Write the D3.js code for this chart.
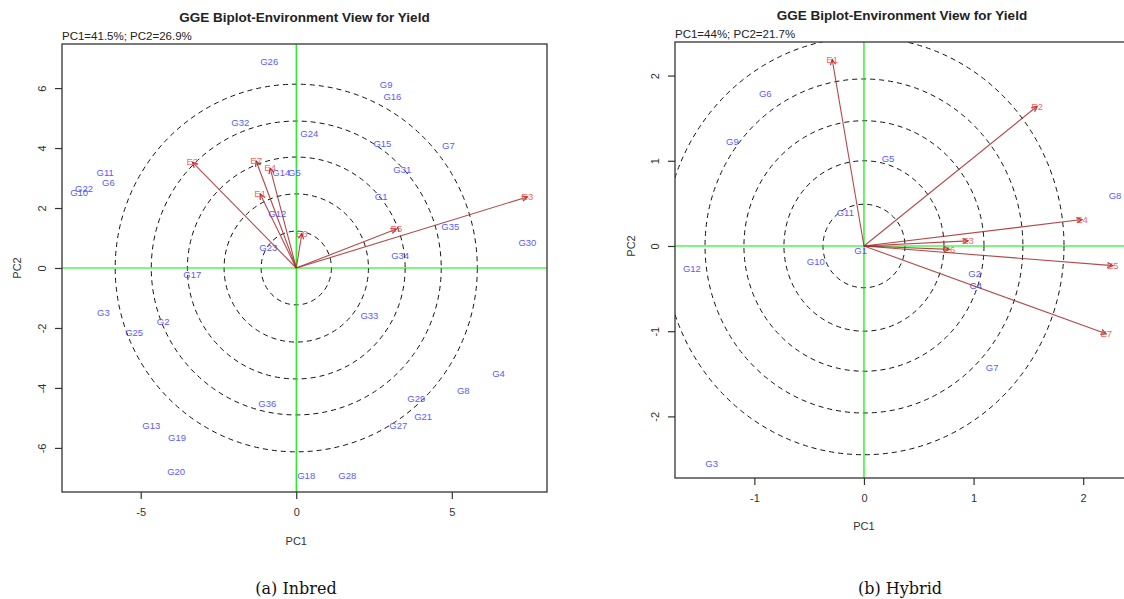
<!DOCTYPE html>
<meta charset="utf-8">
<script src="https://d3js.org/d3.v7.min.js"></script>
<style>
  body { margin: 0; background: #fff; }
  text { font-family: "Liberation Sans", Arial, sans-serif; }
</style>
<div id="chart"></div>
<script>

// ---- (a) Inbred ----
var inbredGenos = ["G26","G32","G11","G6","G22","G10","G14","G5","G12","G23","G17","G24","G9","G16","G15","G7","G31","G1","G35","G30","G34","G3","G2","G25","G13","G19","G20","G36","G33","G4","G8","G29","G21","G27","G18","G28"];
var inbredGX = [-0.87,-1.8,-6.14,-6.04,-6.82,-6.98,-0.48,-0.06,-0.61,-0.9,-3.34,0.42,2.89,3.09,2.77,4.89,3.41,2.73,4.95,7.43,3.34,-6.2,-4.28,-5.21,-4.66,-3.83,-3.86,-0.93,2.35,6.5,5.37,3.86,4.08,3.28,0.32,1.64];
var inbredGY = [6.87,4.83,3.17,2.83,2.63,2.5,3.17,3.17,1.8,0.67,-0.23,4.47,6.1,5.73,4.13,4.07,3.27,2.37,1.37,0.83,0.4,-1.5,-1.8,-2.17,-5.27,-5.67,-6.8,-4.53,-1.6,-3.53,-4.1,-4.37,-4.97,-5.27,-6.93,-6.93];
var inbredEnvs = ["E2","E7","E4","E1","E6","E5","E3"];
var inbredEX = [-3.34,-1.29,-0.84,-1.16,0.18,3.22,7.43];
var inbredEY = [3.53,3.57,3.33,2.47,1.15,1.3,2.37];
var inbredRingX = [1.13,2.32,3.5,4.66,5.82];
var inbredRingY = [1.23,2.47,3.7,4.9,6.13];
var inbredXTicks = [-5,0,5];
var inbredYTicks = [-6,-4,-2,0,2,4,6];

// ---- (b) Hybrid ----
var hybridGenos = ["G6","G9","G5","G11","G1","G10","G12","G8","G2","G4","G7","G3"];
var hybridGX = [-0.9,-1.2,0.22,-0.17,-0.03,-0.44,-1.57,2.29,1.01,1.02,1.17,-1.39];
var hybridGY = [1.79,1.23,1.02,0.39,-0.06,-0.19,-0.27,0.59,-0.33,-0.47,-1.43,-2.55];
var hybridEnvs = ["E1","E2","E4","E3","E6","E5","E7"];
var hybridEX = [-0.29,1.58,1.99,0.95,0.78,2.27,2.21];
var hybridEY = [2.19,1.64,0.31,0.06,-0.04,-0.23,-1.03];
var hybridRingX = [0.374,0.73,1.095,1.45,1.825];
var hybridRingY = [0.49,1.0,1.47,1.96,2.45];
var hybridXTicks = [-1,0,1,2];
var hybridYTicks = [-2,-1,0,1,2];

var W = 1124, H = 599;
var svg = d3.select("#chart").append("svg")
    .attr("width", W).attr("height", H);

var defs = svg.append("defs");

// R prints a plain hyphen for negatives
var fmt = function (d) { return String(d); };

function drawPanel(p) {
    var x = d3.scaleLinear().domain(p.xDomain).range([p.left, p.right]);
    var y = d3.scaleLinear().domain(p.yDomain).range([p.bottom, p.top]);
    var g = svg.append("g");

    defs.append("clipPath").attr("id", p.id + "-clip")
        .append("rect")
        .attr("x", p.left).attr("y", p.top)
        .attr("width", p.right - p.left).attr("height", p.bottom - p.top);

    var inner = g.append("g").attr("clip-path", "url(#" + p.id + "-clip)");

    // concentric rings
    inner.selectAll("ellipse.ring")
        .data(p.ringX)
        .enter().append("ellipse")
        .attr("class", "ring")
        .attr("cx", x(0)).attr("cy", y(0))
        .attr("rx", function (d) { return x(d) - x(0); })
        .attr("ry", function (d, i) { return y(0) - y(p.ringY[i]); })
        .style("fill", "none")
        .style("stroke", "#111")
        .style("stroke-width", 1)
        .style("stroke-dasharray", "5,4");

    // green axes through origin
    inner.append("line")
        .attr("x1", p.left).attr("x2", p.right)
        .attr("y1", y(0)).attr("y2", y(0))
        .style("stroke", "#00ee00").style("stroke-width", 1.2);
    inner.append("line")
        .attr("x1", x(0)).attr("x2", x(0))
        .attr("y1", p.top).attr("y2", p.bottom)
        .style("stroke", "#00ee00").style("stroke-width", 1.2);

    // genotype labels
    inner.selectAll("text.geno")
        .data(p.genos)
        .enter().append("text")
        .attr("class", "geno")
        .attr("x", function (d, i) { return x(p.gx[i]); })
        .attr("y", function (d, i) { return y(p.gy[i]); })
        .attr("dy", "0.35em")
        .attr("text-anchor", "middle")
        .style("font-size", "9.5px")
        .style("fill", "#5a5aff")
        .text(function (d) { return d; });

    // environment vectors
    var env = inner.selectAll("g.env")
        .data(p.envs)
        .enter().append("g")
        .attr("class", "env");

    env.append("line")
        .attr("x1", x(0)).attr("y1", y(0))
        .attr("x2", function (d, i) { return x(p.ex[i]); })
        .attr("y2", function (d, i) { return y(p.ey[i]); })
        .style("stroke", "#a52a2a")
        .style("stroke-opacity", 0.85)
        .style("stroke-width", 1.1);

    env.append("path")
        .attr("d", function (d, i) {
            var tx = x(p.ex[i]), ty = y(p.ey[i]);
            var a = Math.atan2(ty - y(0), tx - x(0));
            var L = 6, s = Math.PI / 7;
            return "M" + (tx - L * Math.cos(a - s)) + "," + (ty - L * Math.sin(a - s)) +
                "L" + tx + "," + ty +
                "L" + (tx - L * Math.cos(a + s)) + "," + (ty - L * Math.sin(a + s));
        })
        .style("fill", "none")
        .style("stroke", "#a52a2a")
        .style("stroke-width", 1.1);

    env.append("text")
        .attr("x", function (d, i) { return x(p.ex[i]); })
        .attr("y", function (d, i) { return y(p.ey[i]); })
        .attr("dy", "0.35em")
        .attr("text-anchor", "middle")
        .style("font-size", "9.5px")
        .style("fill", "#ff4d4d")
        .style("fill-opacity", 0.9)
        .text(function (d) { return d; });

    // frame
    g.append("rect")
        .attr("x", p.left).attr("y", p.top)
        .attr("width", p.right - p.left).attr("height", p.bottom - p.top)
        .style("fill", "none").style("stroke", "#333").style("stroke-width", 1.3);

    // axes
    var xa = g.append("g")
        .attr("transform", "translate(0," + p.bottom + ")")
        .call(d3.axisBottom(x).tickValues(p.xTicks).tickSize(7).tickPadding(9)
            .tickFormat(fmt));
    xa.select(".domain").remove();
    xa.selectAll("line").style("stroke", "#333").style("stroke-width", 1.2);
    xa.selectAll("text").style("font-size", "11px").style("fill", "#333")
        .style("font-family", "'Liberation Sans', Arial, sans-serif");

    var ya = g.append("g")
        .attr("transform", "translate(" + p.left + ",0)")
        .call(d3.axisLeft(y).tickValues(p.yTicks).tickSize(7).tickFormat(fmt));
    ya.select(".domain").remove();
    ya.selectAll("line").style("stroke", "#333").style("stroke-width", 1.2);
    ya.selectAll("text")
        .attr("x", null).attr("dy", null)
        .attr("transform", "translate(" + (-20) + ",0) rotate(-90)")
        .attr("text-anchor", "middle")
        .attr("y", 4)
        .style("font-size", "11px").style("fill", "#333")
        .style("font-family", "'Liberation Sans', Arial, sans-serif");

    // titles
    g.append("text")
        .attr("x", (p.left + p.right) / 2).attr("y", p.top - 22)
        .attr("text-anchor", "middle")
        .style("font-size", "13.5px").style("font-weight", "bold").style("fill", "#222")
        .text("GGE Biplot-Environment View for Yield");
    g.append("text")
        .attr("x", p.left).attr("y", p.top - 4)
        .style("font-size", "11.5px").style("fill", "#222")
        .text(p.sub);

    g.append("text")
        .attr("x", x(0)).attr("y", p.bottom + p.xlabGap)
        .attr("text-anchor", "middle")
        .style("font-size", "11px").style("fill", "#333")
        .text("PC1");
    g.append("text")
        .attr("transform", "translate(" + (p.left - p.ylabGap) + "," + y(0) + ") rotate(-90)")
        .attr("text-anchor", "middle")
        .style("font-size", "11px").style("fill", "#333")
        .text("PC2");

    // caption
    svg.append("text")
        .attr("x", p.capX).attr("y", 594)
        .attr("text-anchor", "middle")
        .style("font-family", "'DejaVu Serif', 'Liberation Serif', serif")
        .style("font-size", "16px").style("fill", "#111")
        .text(p.caption);
}

drawPanel({
    id: "inbred",
    left: 62, right: 547, top: 44, bottom: 492,
    xDomain: [-7.53, 8.06], yDomain: [-7.47, 7.47],
    genos: inbredGenos, gx: inbredGX, gy: inbredGY,
    envs: inbredEnvs, ex: inbredEX, ey: inbredEY,
    ringX: inbredRingX, ringY: inbredRingY,
    xTicks: inbredXTicks, yTicks: inbredYTicks,
    sub: "PC1=41.5%; PC2=26.9%",
    xlabGap: 53, ylabGap: 41,
    capX: 296, caption: "(a) Inbred"
});

drawPanel({
    id: "hybrid",
    left: 675, right: 1129, top: 42, bottom: 478,
    xDomain: [-1.724, 2.418], yDomain: [-2.723, 2.394],
    genos: hybridGenos, gx: hybridGX, gy: hybridGY,
    envs: hybridEnvs, ex: hybridEX, ey: hybridEY,
    ringX: hybridRingX, ringY: hybridRingY,
    xTicks: hybridXTicks, yTicks: hybridYTicks,
    sub: "PC1=44%; PC2=21.7%",
    xlabGap: 52, ylabGap: 40,
    capX: 900, caption: "(b) Hybrid"
});

</script>
